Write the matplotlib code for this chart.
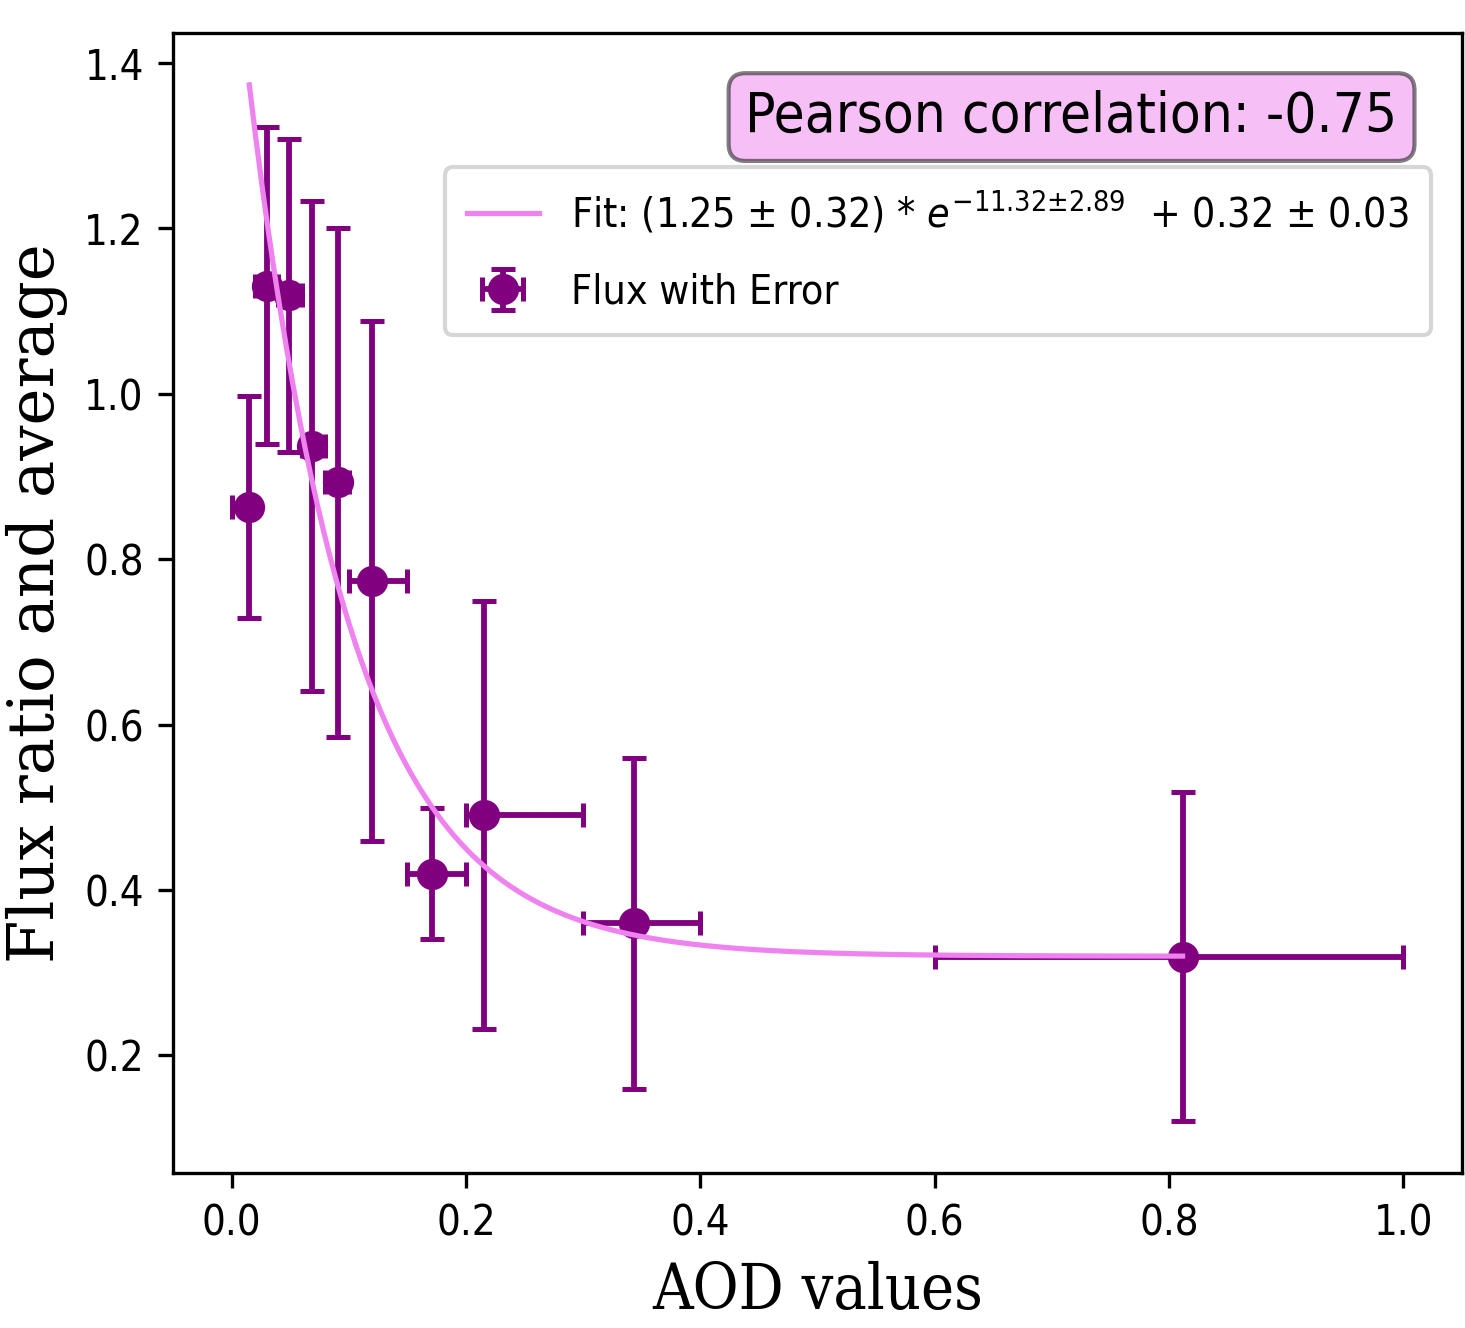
import numpy as np
import matplotlib
matplotlib.use("Agg")
import matplotlib.pyplot as plt

plt.rcParams['font.family'] = ['DejaVu Sans']
plt.rcParams['font.stretch'] = 'condensed'

# binned AOD values, flux ratio and errors
aod = [0.0151, 0.0302, 0.0487, 0.0686, 0.0908, 0.1198, 0.171, 0.2152, 0.3433, 0.8115]
flux = [0.863, 1.131, 1.119, 0.937, 0.893, 0.774, 0.420, 0.4905, 0.3597, 0.3195]
flux_err = [0.134, 0.192, 0.189, 0.296, 0.3075, 0.3145, 0.0795, 0.2585, 0.200, 0.199]
bin_lo = [0.0, 0.02, 0.04, 0.06, 0.08, 0.10, 0.15, 0.20, 0.30, 0.60]
bin_hi = [0.02, 0.04, 0.06, 0.08, 0.10, 0.15, 0.20, 0.30, 0.40, 1.00]

# fit parameters a * exp(-b x) + c
a, a_err = 1.25, 0.32
b, b_err = 11.32, 2.89
c, c_err = 0.32, 0.03
pearson = -0.75

x = np.array(aod)
y = np.array(flux)
xerr = [x - np.array(bin_lo), np.array(bin_hi) - x]

fig = plt.figure(figsize=(1465 / 300, 1328 / 300), dpi=300)
ax = fig.add_axes([0.1181, 0.1167, 0.8799, 0.8584])

ax.errorbar(x, y, yerr=flux_err, xerr=xerr, fmt='o', color='purple',
            markersize=6.5, elinewidth=1.4, capsize=2.8, capthick=1.2,
            label='Flux with Error', zorder=2)

xs = np.linspace(x.min(), x.max(), 300)
ax.plot(xs, a * np.exp(-b * xs) + c, color='violet', lw=1.25, zorder=2.5,
        label=f'Fit: ({a:.2f} ± {a_err:.2f}) * $e^{{-{b:.2f} ± {b_err:.2f}}}$  + {c:.2f} ± {c_err:.2f}')

ax.set_xlabel('AOD values', fontsize=15, family='DejaVu Serif')
ax.set_ylabel('Flux ratio and average', fontsize=15, family='DejaVu Serif',
              fontstretch='normal')
ax.tick_params(labelsize=10)

ax.text(0.95, 0.95, f'Pearson correlation: {pearson:.2f}', transform=ax.transAxes,
        fontsize=13.5, ha='right', va='top',
        bbox=dict(boxstyle='round', facecolor='violet', alpha=0.5))

ax.legend(loc='upper right', bbox_to_anchor=(0.992, 0.9), fontsize=9.8,
          labelspacing=0.9, borderpad=0.55, handlelength=1.75)

fig.savefig('out.png', dpi=300)
